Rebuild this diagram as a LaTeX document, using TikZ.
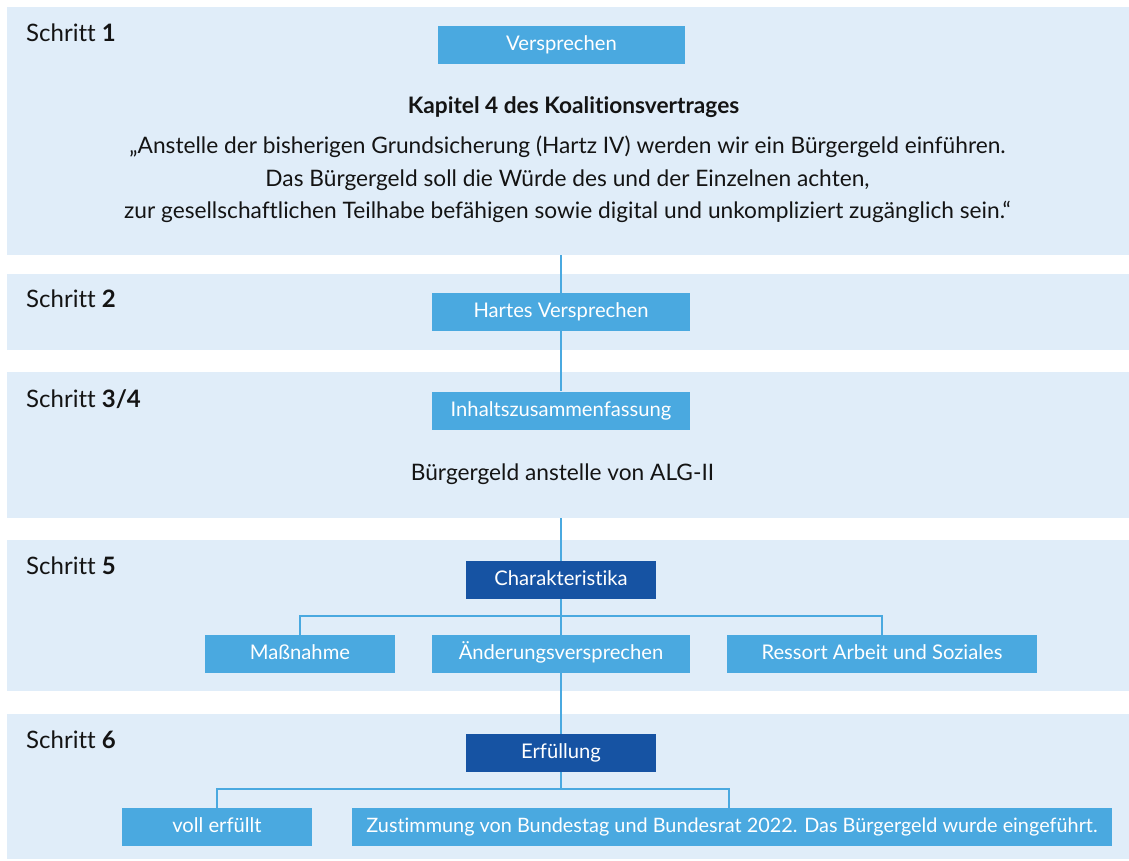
\documentclass[tikz,border=0pt]{standalone}
\usepackage{fontspec}
\setmainfont{Lato}[Ligatures=NoCommon]
\definecolor{panelbg}{RGB}{224,237,249}
\definecolor{boxlight}{RGB}{74,169,224}
\definecolor{boxdark}{RGB}{22,83,163}
\definecolor{txt}{RGB}{20,20,20}
\begin{document}
\begin{tikzpicture}[x=1pt,y=-1pt,
  panel/.style={fill=panelbg,draw=none,inner sep=0pt,anchor=north west},
  boxtext/.style={text=white,inner sep=0pt,font=\fontsize{20.2}{24}\selectfont,text height=14.4pt,text depth=3pt},
  lbox/.style={boxtext,fill=boxlight},
  dbox/.style={boxtext,fill=boxdark},
  steplabel/.style={anchor=base west,text=txt,font=\fontsize{24}{28}\selectfont,inner sep=0pt},
  body/.style={anchor=base,text=txt,font=\fontsize{22.7}{28}\selectfont,inner sep=0pt},
  conn/.style={draw=boxlight,line width=2.6pt}
]
\useasboundingbox (0,0) rectangle (1129,860);
% panels
\node[panel,minimum width=1122pt,minimum height=248pt] (p1) at (7,7) {};
\node[panel,minimum width=1122pt,minimum height=76pt] (p2) at (7,274) {};
\node[panel,minimum width=1122pt,minimum height=146pt] (p3) at (7,372) {};
\node[panel,minimum width=1122pt,minimum height=151pt] (p4) at (7,540) {};
\node[panel,minimum width=1122pt,minimum height=145pt] (p5) at (7,714) {};
% step labels
\node[steplabel] (s1) at (26,41) {Schritt \textbf{1}};
\node[steplabel] (s2) at (26,307) {Schritt \textbf{2}};
\node[steplabel] (s3) at (26,407) {Schritt \textbf{3/4}};
\node[steplabel] (s5) at (26,574) {Schritt \textbf{5}};
\node[steplabel] (s6) at (26,748) {Schritt \textbf{6}};
% panel 1
\node[lbox,minimum width=247pt,minimum height=38pt] (versprechen) at (561.5,45) {Versprechen};
\node[body,font=\fontsize{22.7}{28}\selectfont\bfseries] (kapitel) at (573.5,113) {Kapitel 4 des Koalitionsvertrages};
\node[body] (q1) at (567.5,153) {„Anstelle der bisherigen Grundsicherung (Hartz IV) werden wir ein Bürgergeld einführen.};
\node[body] (q2) at (567.5,186) {Das Bürgergeld soll die Würde des und der Einzelnen achten,};
\node[body] (q3) at (567.5,218.5) {zur gesellschaftlichen Teilhabe befähigen sowie digital und unkompliziert zugänglich sein.“};
% panel 2
\node[lbox,minimum width=258pt,minimum height=38pt] (hartes) at (561,312) {Hartes Versprechen};
% panel 3
\node[lbox,minimum width=258pt,minimum height=38pt] (inhalt) at (561,410.5) {Inhaltszusammenfassung};
\node[body] (alg) at (562.5,480) {Bürgergeld anstelle von ALG-II};
% panel 4
\node[dbox,minimum width=190pt,minimum height=38pt] (charak) at (561,580) {Charakteristika};
\node[lbox,minimum width=190pt,minimum height=38pt] (massnahme) at (300,654) {Maßnahme};
\node[lbox,minimum width=258pt,minimum height=38pt] (aenderung) at (561,654) {Änderungsversprechen};
\node[lbox,minimum width=310pt,minimum height=38pt] (ressort) at (882,654) {Ressort Arbeit und Soziales};
% panel 5
\node[dbox,minimum width=190pt,minimum height=38pt] (erfuellung) at (561,753) {Erfüllung};
\node[lbox,minimum width=190pt,minimum height=38pt] (voll) at (217,827) {voll erfüllt};
\node[lbox,minimum width=760pt,minimum height=38pt,font=\fontsize{19.85}{24}\selectfont] (zustimmung) at (732,827) {Zustimmung von Bundestag und Bundesrat 2022. Das Bürgergeld wurde eingeführt.};
% junction coordinates
\coordinate (j5) at (561,616);
\coordinate (j6) at (561,789);
% connectors
\draw[conn] (p1.south -| hartes.north) -- (hartes.north);
\draw[conn] (hartes.south) -- (inhalt.north);
\draw[conn] (p3.south -| charak.north) -- (charak.north);
\draw[conn] (charak.south) -- (aenderung.north);
\draw[conn,line cap=rect] (massnahme.north) |- (j5) -| (ressort.north);
\draw[conn] (aenderung.south) -- (erfuellung.north);
\draw[conn] (erfuellung.south) -- (j6);
\draw[conn] (voll.north) |- (j6) -| ([xshift=-3pt]zustimmung.north);
\end{tikzpicture}
\end{document}
